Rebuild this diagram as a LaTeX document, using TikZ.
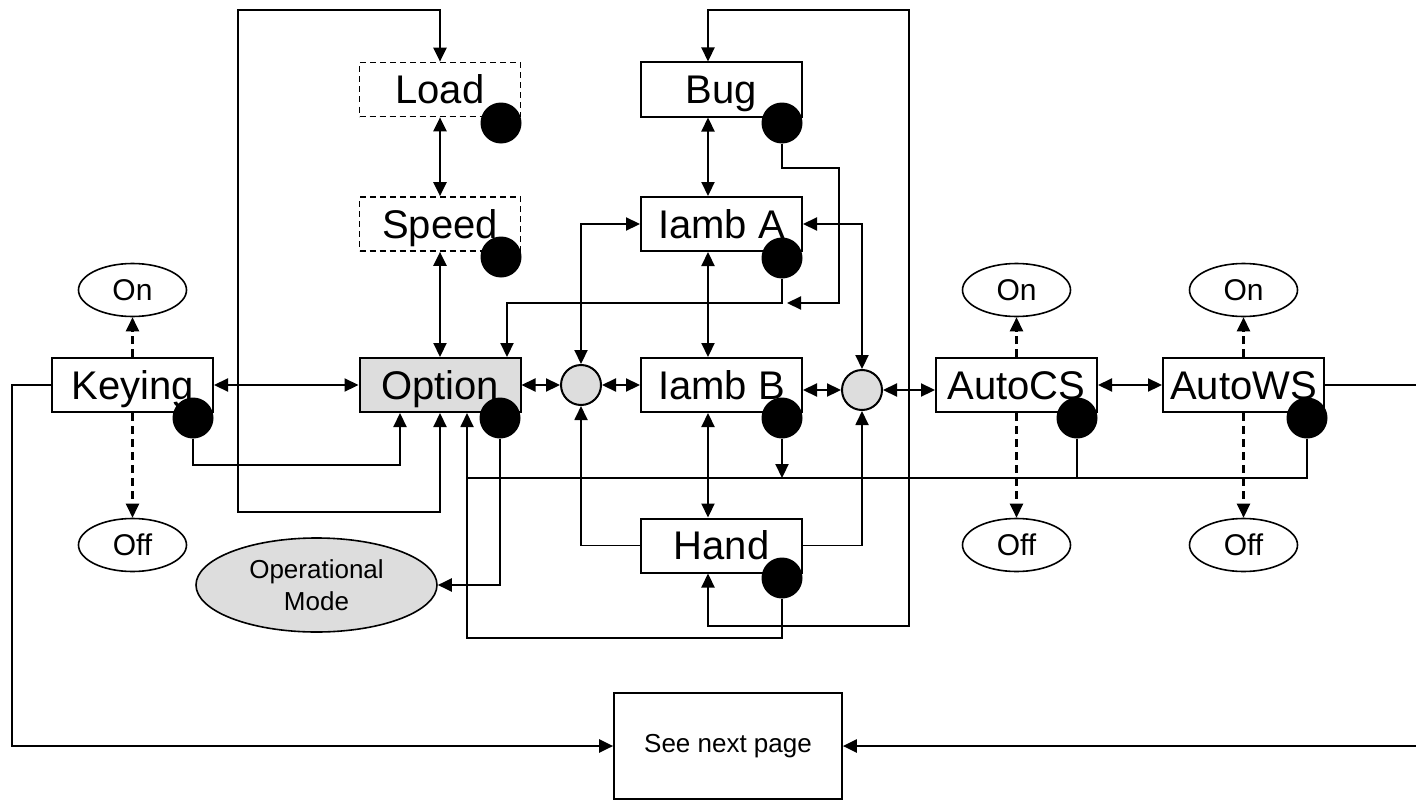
\documentclass[tikz,border=0pt]{standalone}
\usepackage{fontspec}
\setmainfont{Liberation Sans}
\usetikzlibrary{arrows.meta,shapes.geometric}
\definecolor{lgray}{HTML}{DDDDDD}
\tikzset{
  box/.style={draw, line width=2pt, minimum width=161pt, minimum height=54pt, inner sep=0pt, text height=28.5pt, text depth=0pt, font=\fontsize{40}{43}\selectfont},
  dbox/.style={box, line width=1.7pt, dash pattern=on 6pt off 4pt},
  dot/.style={circle, fill=black, minimum size=41pt, inner sep=0pt},
  junc/.style={circle, draw, line width=2pt, fill=lgray, minimum size=40pt, inner sep=0pt},
  oval/.style={ellipse, draw, line width=1.6pt, minimum width=108pt, minimum height=53pt, inner sep=0pt, font=\fontsize{30}{33}\selectfont},
  conn/.style={line width=2.2pt},
  thin/.style={line width=1.8pt},
  dconn/.style={line width=2.4pt, dash pattern=on 8pt off 5pt},
  tip/.tip={Triangle[length=14pt,width=13pt]},
}
\begin{document}
\begin{tikzpicture}[x=1pt,y=-1pt]
\useasboundingbox (0,0) rectangle (1416,800);
% boxes
\node[box] (keying) at (132.5,385) {Keying};
\node[box, fill=lgray] (option) at (440,385) {Option};
\node[dbox] (load) at (440,89.5) {Load};
\node[dbox] (speed) at (440,224) {Speed};
\node[box] (bug) at (721.5,89.5) {Bug};
\node[box] (iamba) at (721.5,224) {Iamb A};
\node[box] (iambb) at (721.5,385) {Iamb B};
\node[box] (hand) at (721.5,545.5) {Hand};
\node[box] (autocs) at (1016.5,385) {AutoCS};
\node[box] (autows) at (1243.5,385) {AutoWS};
\node[draw, line width=1.7pt, minimum width=228pt, minimum height=106pt, inner sep=0pt, font=\fontsize{26}{29}\selectfont] (next) at (728,746) {See next page};
% junctions
\node[junc] (j1) at (581,385) {};
\node[junc] (j2) at (862,390) {};
% ovals
\node[oval] (kon) at (132.5,290) {On};
\node[oval] (koff) at (132.5,545) {Off};
\node[oval] (con) at (1016.5,290) {On};
\node[oval] (coff) at (1016.5,545) {Off};
\node[oval] (won) at (1243.5,290) {On};
\node[oval] (woff) at (1243.5,545) {Off};
\node[ellipse, draw, line width=1.6pt, fill=lgray, minimum width=241pt, minimum height=94pt, inner sep=0pt, align=center, font=\fontsize{26}{32}\selectfont] (opmode) at (316.5,585) {Operational\\Mode};
% dots
\node[dot] (ldot) at (501,123) {};
\node[dot] (sdot) at (501,257) {};
\node[dot] (bdot) at (782,123) {};
\node[dot] (adot) at (782,258) {};
\node[dot] (kdot) at (193,418) {};
\node[dot] (odot) at (500,418) {};
\node[dot] (ibdot) at (782,418) {};
\node[dot] (hdot) at (782,578) {};
\node[dot] (cdot) at (1077,418) {};
\node[dot] (wdot) at (1307,418) {};
\coordinate (bugin) at (787,303);
\coordinate (busin) at (782,478);
% connectors
\draw[conn, tip-tip] (load.north) -- (load.north |- 0,10) -- (238,10) -- (238,512) -- (option.south |- 0,512) -- (option.south);
\draw[conn, tip-tip] (load.south) -- (speed.north);
\draw[conn, tip-tip] (speed.south) -- (option.north);
\draw[conn, tip-tip] (keying.east) -- (option.west);
\draw[conn, -tip] (kdot.south) -- (kdot.south |- 0,465) -- ([xshift=-40pt]option.south |- 0,465) -- ([xshift=-40pt]option.south);
\draw[dconn, -tip] (keying.north) -- (kon.south);
\draw[dconn, -tip] (keying.south) -- (koff.north);
\draw[conn, -tip] (keying.west) -- (12,385) -- (12,746) -- (next.west);
\draw[conn, tip-tip] (option.east) -- (j1.west);
\draw[conn, tip-tip] (j1.east) -- (iambb.west);
\draw[conn, tip-tip] (iambb.east |- j2) -- (j2.west);
\draw[conn, tip-tip] (j2.east) -- (autocs.west |- j2);
\draw[conn, tip-tip] (autocs.east) -- (autows.west);
\draw[conn, -tip] (autows.east) -- (1420,385) -- (1420,746) -- (next.east);
\draw[dconn, -tip] (autocs.north) -- (con.south);
\draw[dconn, -tip] (autocs.south) -- (coff.north);
\draw[dconn, -tip] (autows.north) -- (won.south);
\draw[dconn, -tip] (autows.south) -- (woff.north);
\draw[conn, tip-tip] (iamba.west) -| (j1.north);
\draw[conn, tip-tip] (iamba.east) -| (j2.north);
\draw[thin, -tip] (hand.west) -| (j1.south);
\draw[thin, -tip] (hand.east) -| (j2.south);
\draw[conn, tip-tip] ([xshift=-13.5pt]bug.south) -- ([xshift=-13.5pt]iamba.north);
\draw[conn, tip-tip] ([xshift=-13.5pt]iamba.south) -- ([xshift=-13.5pt]iambb.north);
\draw[conn, tip-tip] ([xshift=-13.5pt]iambb.south) -- ([xshift=-13.5pt]hand.north);
\draw[conn, tip-tip] ([xshift=-13.5pt]bug.north) -- ([xshift=-13.5pt]bug.north |- 0,10) -- (909,10) -- (909,626) -- ([xshift=-13.5pt]hand.south |- 0,626) -- ([xshift=-13.5pt]hand.south);
\draw[conn, -tip] (bdot.south) -- (782,168) -- (839,168) -- (839,303) -- (bugin);
\draw[conn, -tip] (adot.south) -- (782,303) -- ([xshift=67pt]option.north |- 0,303) -- ([xshift=67pt]option.north);
\draw[conn, -tip] (ibdot.south) -- (busin);
\draw[thin, -tip] (wdot.south) -- (1307,478) -- (467,478) -- ([xshift=27pt]option.south);
\draw[thin] (cdot.south) -- (1077,478);
\draw[thin] (hdot.south) -- (782,638) -- (467,638) -- (467,478);
\draw[conn, -tip] (odot.south) |- (opmode.east);
\end{tikzpicture}
\end{document}
